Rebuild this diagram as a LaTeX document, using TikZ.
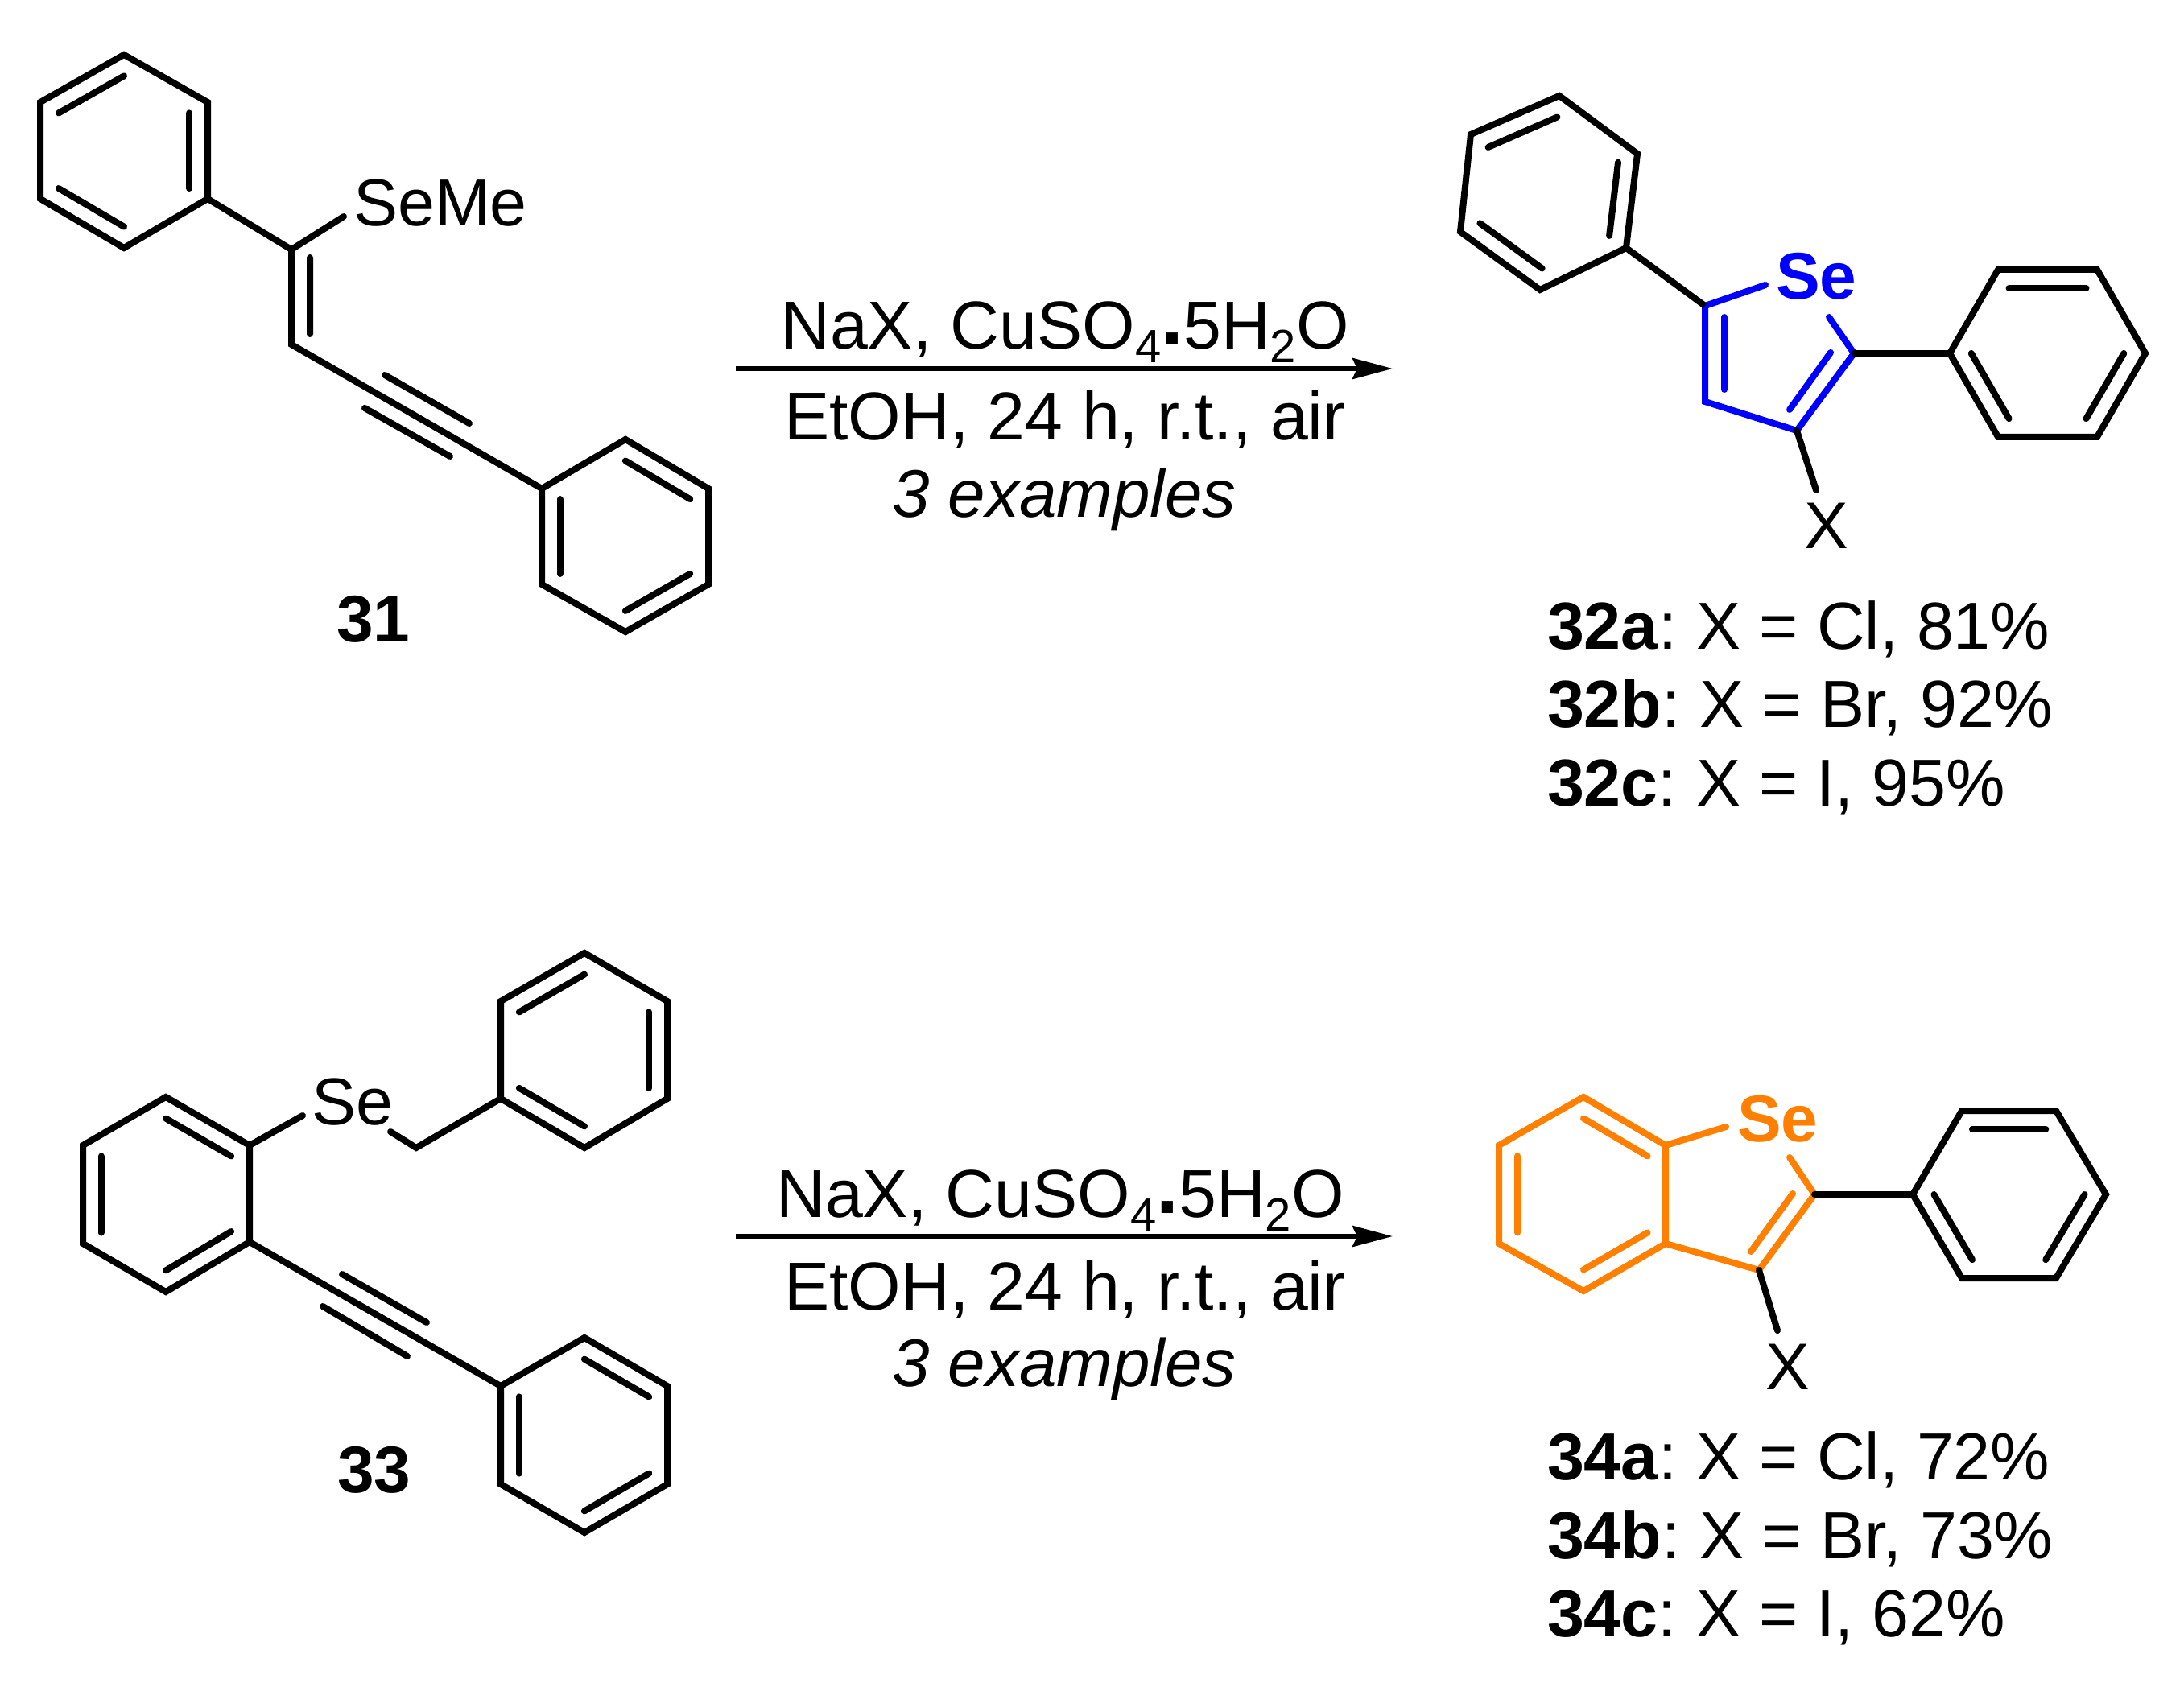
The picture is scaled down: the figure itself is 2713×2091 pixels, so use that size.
\documentclass[tikz,border=0pt]{standalone}
\usepackage{fontspec}
\setmainfont{Liberation Sans}
\usetikzlibrary{arrows.meta, calc}
\definecolor{selenblue}{RGB}{0,0,255}
\definecolor{selenorange}{RGB}{255,128,0}
\newcommand{\lowsub}[1]{\raisebox{-8.5pt}{\fontsize{29}{29}\selectfont #1}}
\newcommand{\reagents}{NaX, CuSO\lowsub{4}\raisebox{2.5pt}{\fontsize{50}{50}\selectfont\textbf{.}}5H\lowsub{2}O}
\newcommand{\prodlab}[2]{\textbf{#1}:\hspace{-3pt} #2}
% inner line of a double bond: pulled towards a ring centre
\newcommand{\inbond}[3]{\draw[line cap=round] ($(#1)!.22!(#3)$) -- ($(#2)!.22!(#3)$);}
% six ring atoms r1..r6 and centre rc; a double bond starts at every one of #8
\newcommand{\benzring}[8]{%
\coordinate (#1 1) at (#2); \coordinate (#1 2) at (#3); \coordinate (#1 3) at (#4);
\coordinate (#1 4) at (#5); \coordinate (#1 5) at (#6); \coordinate (#1 6) at (#7);
\coordinate (#1c) at ($(#1 1)!.5!(#1 4)$);
\draw (#1 1) -- (#1 2) -- (#1 3) -- (#1 4) -- (#1 5) -- (#1 6) -- cycle;
\foreach \i/\j in {#8} {\inbond{#1 \i}{#1 \j}{#1c}}
}
\tikzset{
x=0.5pt, y=-0.5pt,
bondtxt/.style={inner sep=0pt, anchor=base west, font=\fontsize{41.3}{42}\selectfont},
boldtxt/.style={inner sep=0pt, anchor=base west, font=\fontsize{41}{41}\selectfont\bfseries},
midtxt/.style={inner sep=0pt, anchor=base, font=\fontsize{41}{41}\selectfont},
condtxt/.style={inner sep=0pt, anchor=base, font=\fontsize{42.1}{42}\selectfont},
freebond/.style={line cap=round},
rxnarrow/.style={line width=3pt, -{Stealth[length=25pt, width=13pt, inset=3pt]}},
}
\begin{document}
\begin{tikzpicture}[line width=4pt, line join=miter]
\useasboundingbox (0,0) rectangle (2713,2091);

% substrate 31
\benzring{A}{154,68}{258,127}{258,247}{154,308}{50,247}{50,127}{6/1,2/3,4/5}
\benzring{B}{673,607}{777,546}{880,607}{880,726}{777,785}{673,726}{2/3,4/5,6/1}
\coordinate (c1) at (362,310);
\coordinate (c2) at (362,428);
\node[bondtxt] (seme) at (435,281) {SeMe};
\coordinate (semeend) at (427,269);
\draw (A 3) -- (c1) -- (c2) -- (B 1);
\draw[freebond] (c1) -- (semeend);
\coordinate (ia) at (385,320); \coordinate (ib) at (385,415);
\coordinate (ic) at (478,466); \coordinate (id) at (583,526);
\coordinate (ie) at (453,507); \coordinate (if) at (559,567);
\draw[freebond] (ia) -- (ib) (ic) -- (id) (ie) -- (if);
\node[midtxt, font=\fontsize{41}{41}\selectfont\bfseries] (lab31) at (464,797) {31};

% first arrow
\coordinate (arr1a) at (914,458);
\coordinate (arr1b) at (1730,458);
\draw[rxnarrow] (arr1a) -- (arr1b);
\node[condtxt] (cond1a) at (1323,434) {\reagents};
\node[condtxt] (cond1b) at (1323,546) {EtOH, 24 h, r.t., air};
\node[condtxt, font=\fontsize{41.8}{42}\selectfont\itshape] (cond1c) at (1322,642) {3 examples};

% product 32
\benzring{C}{1937,119}{2034,191}{2020,308}{1913,360}{1814,288}{1827,167}{6/1,2/3,4/5}
\benzring{D}{2422,439}{2482,335}{2605,335}{2665,439}{2605,543}{2482,543}{2/3,4/5,6/1}
\coordinate (p1) at (2118,380); \coordinate (p2) at (2118,499);
\coordinate (p3) at (2232,535); \coordinate (p4) at (2303,439);
\coordinate (pse1) at (2193,354); \coordinate (pse2) at (2272,394);
\coordinate (pa) at (2142,394); \coordinate (pb) at (2142,484);
\coordinate (pc) at (2274,438); \coordinate (pd) at (2223,509);
\coordinate (px) at (2256,609);
\begin{scope}[selenblue]
\draw[freebond] (pse1) -- (p1) -- (p2) -- (p3) -- (p4) -- (pse2);
\draw[freebond] (pa) -- (pb) (pc) -- (pd);
\node[boldtxt, text=selenblue] (se32) at (2202,372) {Se};
\end{scope}
\draw (C 3) -- (p1);
\draw[freebond] (p4) -- (D 1);
\draw[freebond] (p3) -- (px);
\node[midtxt] (x32) at (2269,681) {X};
\node[bondtxt] (lab32a) at (1918,806) {\prodlab{32a}{X = Cl, 81\%}};
\node[bondtxt] (lab32b) at (1918,903) {\prodlab{32b}{X = Br, 92\%}};
\node[bondtxt] (lab32c) at (1918,1001) {\prodlab{32c}{X = I, 95\%}};

% substrate 33
\benzring{E}{726,1184}{829,1244}{829,1365}{726,1426}{622,1365}{622,1244}{6/1,2/3,4/5}
\benzring{F}{206,1363}{310,1423}{310,1543}{206,1605}{103,1545}{103,1423}{1/2,3/4,5/6}
\benzring{G}{622,1722}{726,1662}{829,1722}{829,1844}{726,1904}{622,1844}{2/3,4/5,6/1}
\node[bondtxt] (se33) at (383,1397) {Se};
\coordinate (sa) at (376,1386);
\coordinate (sb) at (485,1406);
\coordinate (ch2) at (517,1426);
\draw[freebond] (F 2) -- (sa);
\draw[freebond] (sb) -- (ch2) -- (E 5);
\draw (F 3) -- (G 1);
\coordinate (ig) at (425,1583); \coordinate (ih) at (530,1643);
\coordinate (ii) at (401,1623); \coordinate (ij) at (506,1685);
\draw[freebond] (ig) -- (ih) (ii) -- (ij);
\node[midtxt, font=\fontsize{41}{41}\selectfont\bfseries] (lab33) at (465,1854) {33};

% second arrow
\coordinate (arr2a) at (914,1536);
\coordinate (arr2b) at (1730,1536);
\draw[rxnarrow] (arr2a) -- (arr2b);
\node[condtxt] (cond2a) at (1317,1512) {\reagents};
\node[condtxt] (cond2b) at (1323,1627) {EtOH, 24 h, r.t., air};
\node[condtxt, font=\fontsize{41.8}{42}\selectfont\itshape] (cond2c) at (1322,1722) {3 examples};

% product 34
\begin{scope}[selenorange]
\benzring{H}{1967,1363}{2069,1423}{2069,1545}{1967,1604}{1862,1545}{1862,1423}{1/2,3/4,5/6}
\coordinate (q3) at (2185,1578); \coordinate (q4) at (2254,1484);
\coordinate (qse1) at (2144,1400); \coordinate (qse2) at (2223,1438);
\coordinate (qc) at (2227,1483); \coordinate (qd) at (2175,1555);
\draw[freebond] (H 2) -- (qse1);
\draw[freebond] (H 3) -- (q3) -- (q4) -- (qse2);
\draw[freebond] (qc) -- (qd);
\node[boldtxt, text=selenorange] (se34) at (2154,1418) {Se};
\end{scope}
\benzring{J}{2376,1484}{2437,1380}{2554,1380}{2616,1484}{2554,1588}{2437,1588}{2/3,4/5,6/1}
\coordinate (qx) at (2208,1653);
\draw[freebond] (q4) -- (J 1);
\draw[freebond] (q3) -- (qx);
\node[midtxt] (x34) at (2221,1726) {X};
\node[bondtxt] (lab34a) at (1918,1838) {\prodlab{34a}{X = Cl, 72\%}};
\node[bondtxt] (lab34b) at (1918,1936) {\prodlab{34b}{X = Br, 73\%}};
\node[bondtxt] (lab34c) at (1918,2033) {\prodlab{34c}{X = I, 62\%}};
\end{tikzpicture}
\end{document}
